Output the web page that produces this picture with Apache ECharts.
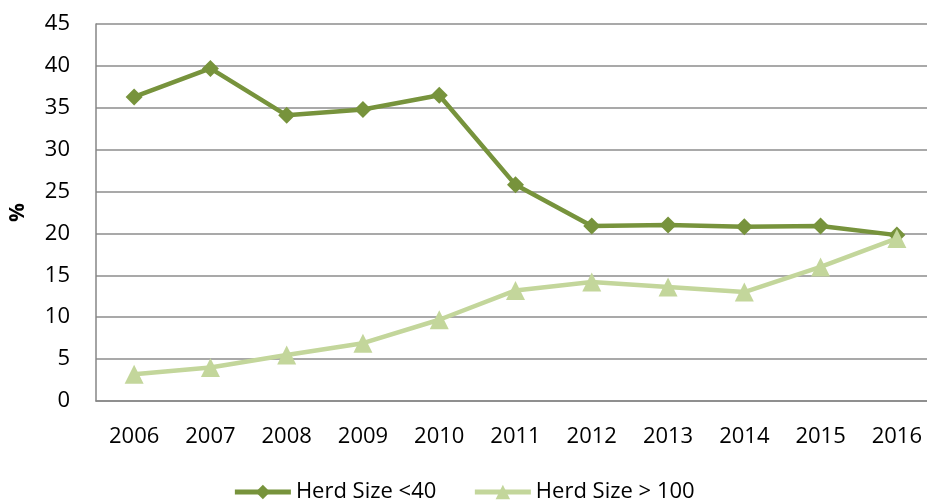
<!DOCTYPE html>
<html>
<head>
<meta charset="utf-8">
<script src="https://cdn.jsdelivr.net/npm/echarts@6/dist/echarts.min.js"></script>
<style>html,body{margin:0;padding:0;background:#fff}#c{width:927px;height:501px}</style>
</head>
<body>
<div id="c"></div>
<script>
var categories = ['2006','2007','2008','2009','2010','2011','2012','2013','2014','2015','2016'];
var herdSmall = [36.3, 39.7, 34.1, 34.8, 36.5, 25.8, 20.9, 21.0, 20.8, 20.9, 19.8];
var herdLarge = [3.2, 4.0, 5.5, 6.9, 9.7, 13.2, 14.2, 13.6, 13.0, 16.0, 19.4];
var seriesNames = ['Herd Size <40', 'Herd Size > 100'];

var font = '"Open Sans", sans-serif';
var chart = echarts.init(document.getElementById('c'));
chart.setOption({
  animation: false,
  backgroundColor: '#fff',
  grid: { left: 96, top: 24, width: 839, bottom: 100, containLabel: false, outerBoundsMode: 'none' },
  legend: {
    top: 476, left: 'center', itemWidth: 56, itemHeight: 18, itemGap: 36,
    textStyle: { fontFamily: font, fontSize: 22, color: '#000' },
    lineStyle: { width: 5 },
    data: seriesNames
  },
  xAxis: {
    type: 'category', data: categories, boundaryGap: true,
    axisLine: { lineStyle: { color: '#868686', width: 1.5 } },
    axisTick: { show: false },
    axisLabel: { fontFamily: font, fontSize: 22, color: '#000', margin: 25 }
  },
  yAxis: {
    type: 'value', min: 0, max: 45, interval: 5,
    name: '%', nameLocation: 'middle', nameGap: 67, nameRotate: 90,
    nameTextStyle: { fontFamily: font, fontSize: 21, fontWeight: 'bold', color: '#000' },
    axisLine: { show: true, lineStyle: { color: '#868686', width: 1.5 } },
    axisTick: { show: false },
    splitLine: { lineStyle: { color: '#8c8c8c', width: 1.5 } },
    axisLabel: { fontFamily: font, fontSize: 22, color: '#000', margin: 26 }
  },
  series: [
    {
      name: seriesNames[0], type: 'line', data: herdSmall,
      symbol: 'diamond', symbolSize: 17,
      lineStyle: { color: '#77933C', width: 4.5 },
      itemStyle: { color: '#77933C' }
    },
    {
      name: seriesNames[1], type: 'line', data: herdLarge,
      symbol: 'triangle', symbolSize: 19,
      lineStyle: { color: '#C3D69B', width: 4.5 },
      itemStyle: { color: '#C3D69B' }
    }
  ]
});
</script>
</body>
</html>
